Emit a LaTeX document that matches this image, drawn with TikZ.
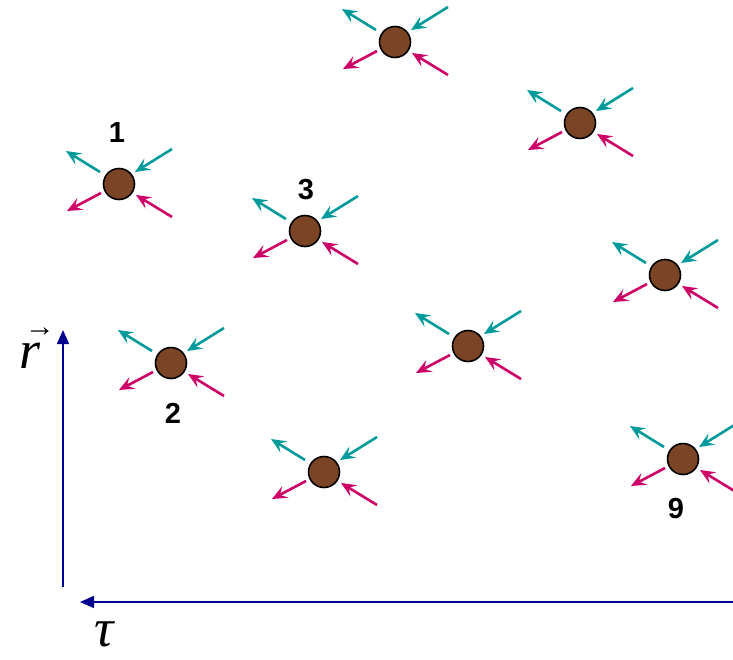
\documentclass[tikz,border=0pt]{standalone}
\usepackage{fontspec}
\setmainfont{Liberation Serif}
\setsansfont{Liberation Sans}
\usetikzlibrary{arrows.meta,calc}
\definecolor{ballbrown}{HTML}{7B4424}
\definecolor{outteal}{HTML}{009A9A}
\definecolor{inmagenta}{HTML}{CC0066}
\definecolor{axisblue}{HTML}{000090}

\tikzset{
  particle/.style={circle,draw=black,fill=ballbrown,line width=1.6pt,minimum size=31pt,inner sep=0pt},
  flux/.style={line width=2.6pt,-{Stealth[length=15pt,width=13pt,inset=6pt]}},
  tealflux/.style={flux,outteal},
  pinkflux/.style={flux,inmagenta},
  axisline/.style={axisblue,line width=1.6pt,-{Triangle[length=14pt,width=12pt]}},
  numlabel/.style={font=\fontsize{29}{29}\selectfont\sffamily\bfseries},
  axislabel/.style={font=\fontsize{54}{54}\selectfont\itshape,inner sep=0pt}
}

\begin{document}
\begin{tikzpicture}[x=1pt,y=-1pt]
\useasboundingbox (0,0) rectangle (733,659);
% particles with in/out arrows
\foreach \name/\px/\py in {p1/119/184, p2/171/363, p3/305/231, p4/395/42, p5/580/123,
    p6/665/275, p7/468/346, p8/324/472, p9/683/459} {
  \node[particle] (\name) at (\px,\py) {};
  \draw[tealflux] ([shift={(-19,-12)}]\name.center) -- ([shift={(-53,-33)}]\name.center);
  \draw[tealflux] ([shift={(53,-35)}]\name.center) -- ([shift={(16,-12)}]\name.center);
  \draw[pinkflux] ([shift={(-18,9)}]\name.center) -- ([shift={(-52,27)}]\name.center);
  \draw[pinkflux] ([shift={(53,33)}]\name.center) -- ([shift={(17,11)}]\name.center);
}
% labels
\node[numlabel] (l1) at (117,133) {1};
\node[numlabel] (l2) at (173,413) {2};
\node[numlabel] (l3) at (306,190) {3};
\node[numlabel] (l9) at (676,509) {9};
% axes
\coordinate (rbase) at (63,587);
\coordinate (rtip) at (63,330);
\coordinate (tbase) at (733,602);
\coordinate (ttip) at (80,602);
\draw[axisline] (rbase) -- (rtip);
\draw[axisline] (tbase) -- (ttip);
\node[axislabel] (rlabel) at (30,348) {\makebox[0pt][l]{\raisebox{0.6em}{\kern0.1em\fontsize{30}{30}\selectfont\upshape →}}r};
\node[axislabel] (tlabel) at (104,634) {τ};
\end{tikzpicture}
\end{document}
